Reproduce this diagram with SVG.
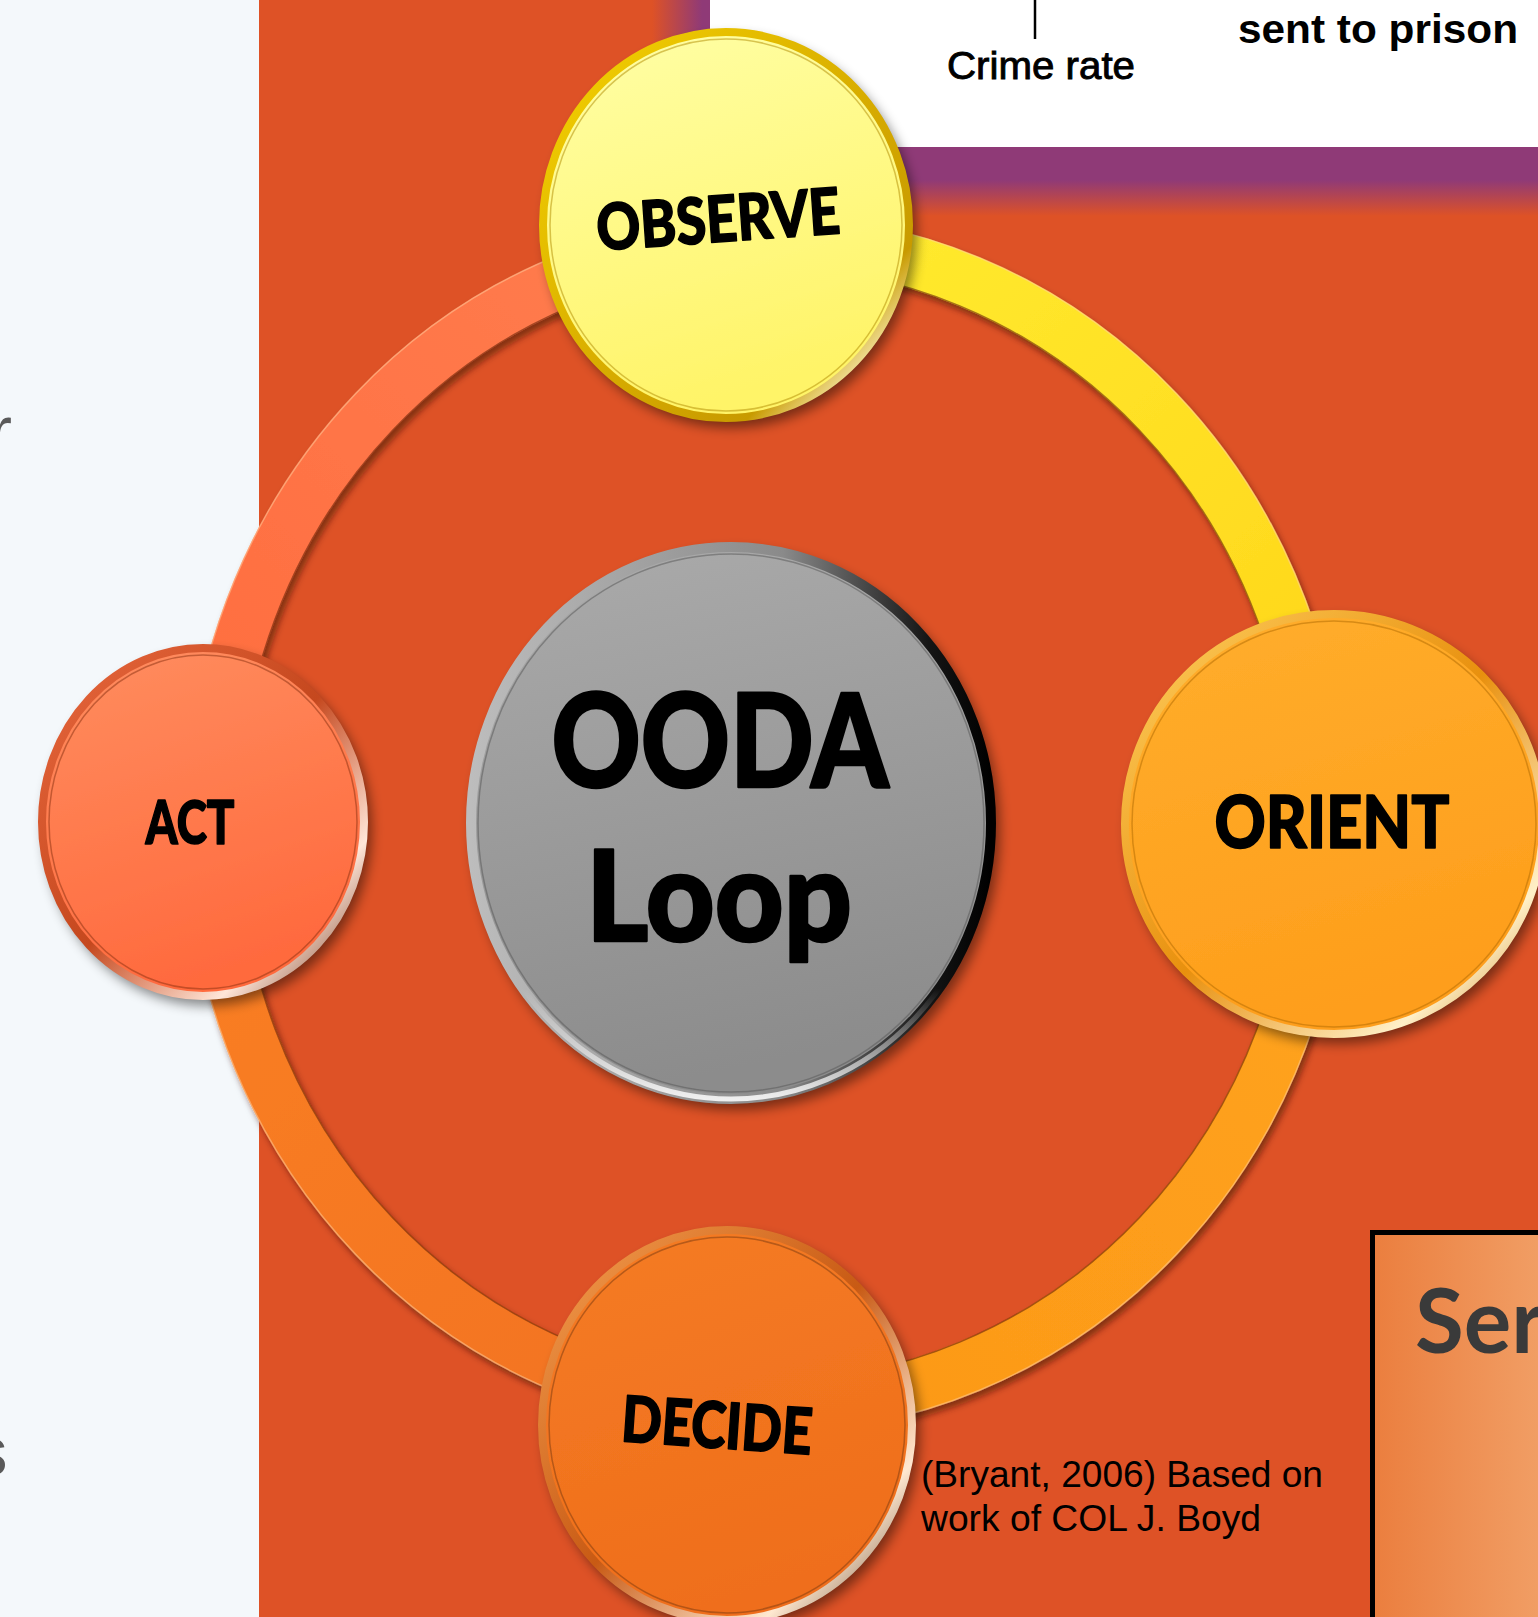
<svg xmlns="http://www.w3.org/2000/svg" width="1538" height="1617" viewBox="0 0 1538 1617">
<defs>
<style>
.lbl{font-family:Lato,"Liberation Sans",sans-serif;font-weight:900;fill:#000;stroke:#000;stroke-width:1.6px;stroke-linejoin:round;text-anchor:middle}
.big{stroke-width:2.6px}
.arc{fill:none;stroke-width:53}
.cite{font-family:"Liberation Sans",Arial,sans-serif;font-size:37px;fill:#000}
</style>
<filter id="sh" x="-20%" y="-20%" width="145%" height="145%"><feDropShadow dx="5" dy="7" stdDeviation="6" flood-color="#000" flood-opacity="0.45"/></filter>
<filter id="rsh" x="-10%" y="-10%" width="125%" height="125%"><feDropShadow dx="3" dy="5" stdDeviation="3" flood-color="#3a0e00" flood-opacity="0.55"/></filter>
<linearGradient id="pFadeV" x1="0" y1="0" x2="0" y2="1"><stop offset="0" stop-color="#8F3A77"/><stop offset="1" stop-color="#DE5226"/></linearGradient>
<linearGradient id="pFadeH" x1="0" y1="0" x2="1" y2="0"><stop offset="0" stop-color="#DE5226"/><stop offset="1" stop-color="#8F3A77"/></linearGradient>
<linearGradient id="aTL" gradientUnits="userSpaceOnUse" x1="212" y1="824" x2="766" y2="241"><stop offset="0" stop-color="#FF6C3E"/><stop offset="1" stop-color="#FF7E50"/></linearGradient>
<linearGradient id="aTR" gradientUnits="userSpaceOnUse" x1="766" y1="241" x2="1320" y2="824"><stop offset="0" stop-color="#FFEC30"/><stop offset="1" stop-color="#FFD418"/></linearGradient>
<linearGradient id="aBR" gradientUnits="userSpaceOnUse" x1="1320" y1="824" x2="766" y2="1407"><stop offset="0" stop-color="#FFA41C"/><stop offset="1" stop-color="#FC9818"/></linearGradient>
<linearGradient id="aBL" gradientUnits="userSpaceOnUse" x1="766" y1="1407" x2="212" y2="824"><stop offset="0" stop-color="#F27220"/><stop offset="1" stop-color="#FA7F24"/></linearGradient>
<linearGradient id="gObs" x1="0" y1="0" x2="0.3" y2="1"><stop offset="0" stop-color="#FFFFA8"/><stop offset="1" stop-color="#FFF468"/></linearGradient>
<linearGradient id="rObs" x1="0" y1="0" x2="1" y2="1"><stop offset="0" stop-color="#F5D200"/><stop offset="0.5" stop-color="#D9AE00"/><stop offset="0.78" stop-color="#C89A00"/><stop offset="0.9" stop-color="#FFF8D0"/><stop offset="1" stop-color="#B08600"/></linearGradient>
<linearGradient id="gOri" x1="0" y1="0" x2="0.3" y2="1"><stop offset="0" stop-color="#FFAE2C"/><stop offset="1" stop-color="#FE9E1C"/></linearGradient>
<linearGradient id="rOri" x1="0" y1="0" x2="1" y2="1"><stop offset="0" stop-color="#FFD060"/><stop offset="0.5" stop-color="#E8900E"/><stop offset="0.82" stop-color="#FFF0C8"/><stop offset="1" stop-color="#C07000"/></linearGradient>
<linearGradient id="gAct" x1="0" y1="0" x2="0.3" y2="1"><stop offset="0" stop-color="#FF8E60"/><stop offset="1" stop-color="#FF6A3E"/></linearGradient>
<linearGradient id="rAct" x1="0" y1="0" x2="1" y2="1"><stop offset="0" stop-color="#E8683E"/><stop offset="0.5" stop-color="#C5481E"/><stop offset="0.78" stop-color="#FFE6D8"/><stop offset="1" stop-color="#6A2A10"/></linearGradient>
<linearGradient id="gDec" x1="0" y1="0" x2="0.3" y2="1"><stop offset="0" stop-color="#F57C24"/><stop offset="1" stop-color="#EF6E1C"/></linearGradient>
<linearGradient id="rDec" x1="0" y1="0" x2="1" y2="1"><stop offset="0" stop-color="#F6A050"/><stop offset="0.5" stop-color="#C85A14"/><stop offset="0.8" stop-color="#FFE8D0"/><stop offset="1" stop-color="#5A3A20"/></linearGradient>
<linearGradient id="gOoda" x1="0" y1="0" x2="0.2" y2="1"><stop offset="0" stop-color="#ABABAB"/><stop offset="1" stop-color="#8C8C8C"/></linearGradient>
<linearGradient id="rOoda" x1="0" y1="0" x2="1" y2="0"><stop offset="0" stop-color="#BDBDBD"/><stop offset="0.6" stop-color="#8A8A8A"/><stop offset="0.88" stop-color="#151515"/><stop offset="1" stop-color="#000"/></linearGradient>
<linearGradient id="rOodaB" x1="0" y1="0" x2="0" y2="1"><stop offset="0" stop-color="#fff" stop-opacity="0"/><stop offset="0.8" stop-color="#fff" stop-opacity="0"/><stop offset="1" stop-color="#fff" stop-opacity="0.85"/></linearGradient>
<linearGradient id="boxFill" x1="0" y1="0" x2="1" y2="0"><stop offset="0" stop-color="#EB7E3E"/><stop offset="1" stop-color="#F2A46C"/></linearGradient>
</defs>

<g id="background">
<rect x="0" y="0" width="1538" height="1617" fill="#F4F8FB"/>
<rect x="259" y="0" width="1279" height="1617" fill="#DE5226"/>
<text x="-11" y="454" font-family="'Liberation Sans',Arial,sans-serif" font-size="69" fill="#5A5A5A">r</text>
<text x="-27" y="1475" font-family="'Liberation Sans',Arial,sans-serif" font-size="69" fill="#5A5A5A">s</text>
</g>

<g id="chart-box">
<rect x="700" y="0" width="838" height="182" fill="#8F3A77"/>
<rect x="700" y="180" width="838" height="36" fill="url(#pFadeV)"/>
<rect x="652" y="0" width="50" height="216" fill="url(#pFadeH)"/>
<rect x="710" y="0" width="828" height="147" fill="#FFFFFF"/>
<line x1="1035" y1="0" x2="1035" y2="39" stroke="#000" stroke-width="2.5"/>
<text x="947" y="79" font-family="'Liberation Sans',Arial,sans-serif" font-size="39" textLength="188" lengthAdjust="spacingAndGlyphs" fill="#000" stroke="#000" stroke-width="0.9">Crime rate</text>
<text x="1238" y="43" font-family="'Liberation Sans',Arial,sans-serif" font-weight="bold" font-size="40" textLength="280" lengthAdjust="spacingAndGlyphs" fill="#000">sent to prison</text>
</g>

<g id="connectors" filter="url(#rsh)">
<path class="arc" stroke="url(#aTL)" d="M212 824 A554 583 0 0 1 766 241"/>
<path class="arc" stroke="url(#aTR)" d="M766 241 A554 583 0 0 1 1320 824"/>
<path class="arc" stroke="url(#aBR)" d="M1320 824 A554 583 0 0 1 766 1407"/>
<path class="arc" stroke="url(#aBL)" d="M766 1407 A554 583 0 0 1 212 824"/>
<ellipse cx="766" cy="824" rx="528" ry="557" fill="none" stroke="#6a2408" stroke-opacity="0.6" stroke-width="1.5"/>
<ellipse cx="766" cy="824" rx="580" ry="609" fill="none" stroke="#FFD0A0" stroke-opacity="0.5" stroke-width="1.5"/>
</g>

<g id="ooda">
<ellipse cx="731" cy="823" rx="264" ry="280" fill="url(#gOoda)" filter="url(#sh)"/>
<ellipse cx="731" cy="823" rx="260" ry="276" fill="none" stroke="url(#rOoda)" stroke-width="10"/>
<ellipse cx="731" cy="823" rx="260" ry="276" fill="none" stroke="url(#rOodaB)" stroke-width="5"/>
<ellipse cx="731" cy="823" rx="253" ry="269" fill="none" stroke="#555" stroke-opacity="0.5" stroke-width="1.5"/>
<text class="lbl big" x="720" y="787" font-size="130" textLength="337" lengthAdjust="spacingAndGlyphs">OODA</text>
<text class="lbl big" x="719" y="941" font-size="126" textLength="266" lengthAdjust="spacingAndGlyphs">Loop</text>
</g>

<g id="observe">
<ellipse cx="726" cy="225" rx="186" ry="196" fill="url(#gObs)" filter="url(#sh)"/>
<ellipse cx="726" cy="225" rx="183" ry="193" fill="none" stroke="url(#rObs)" stroke-width="8"/>
<ellipse cx="726" cy="225" rx="176" ry="186" fill="none" stroke="#B08A00" stroke-opacity="0.5" stroke-width="1.5"/>
<text class="lbl" x="718" y="242" font-size="64" textLength="244" lengthAdjust="spacingAndGlyphs" transform="rotate(-4 718 219)">OBSERVE</text>
</g>

<g id="orient">
<ellipse cx="1334" cy="824" rx="212" ry="213" fill="url(#gOri)" filter="url(#sh)"/>
<ellipse cx="1334" cy="824" rx="209" ry="210" fill="none" stroke="url(#rOri)" stroke-width="8"/>
<ellipse cx="1334" cy="824" rx="202" ry="203" fill="none" stroke="#B06A00" stroke-opacity="0.5" stroke-width="1.5"/>
<text class="lbl" x="1332" y="848" font-size="72" textLength="235" lengthAdjust="spacingAndGlyphs">ORIENT</text>
</g>

<g id="act">
<ellipse cx="203" cy="822" rx="164" ry="177" fill="url(#gAct)" filter="url(#sh)"/>
<ellipse cx="203" cy="822" rx="161" ry="174" fill="none" stroke="url(#rAct)" stroke-width="8"/>
<ellipse cx="203" cy="822" rx="154" ry="167" fill="none" stroke="#8A3010" stroke-opacity="0.5" stroke-width="1.5"/>
<text class="lbl" x="190" y="844" font-size="61" textLength="89" lengthAdjust="spacingAndGlyphs">ACT</text>
</g>

<g id="decide">
<ellipse cx="727" cy="1425" rx="188" ry="198" fill="url(#gDec)" filter="url(#sh)"/>
<ellipse cx="727" cy="1425" rx="185" ry="195" fill="none" stroke="url(#rDec)" stroke-width="8"/>
<ellipse cx="727" cy="1425" rx="178" ry="188" fill="none" stroke="#7A3A10" stroke-opacity="0.5" stroke-width="1.5"/>
<text class="lbl" x="717" y="1448" font-size="64" textLength="191" lengthAdjust="spacingAndGlyphs" transform="rotate(4 717 1425)">DECIDE</text>
</g>

<g id="citation">
<text class="cite" x="921" y="1487" textLength="402" lengthAdjust="spacingAndGlyphs">(Bryant, 2006) Based on</text>
<text class="cite" x="921" y="1531" textLength="340" lengthAdjust="spacingAndGlyphs">work of COL J. Boyd</text>
</g>

<g id="side-box">
<rect x="1372.5" y="1232.5" width="200" height="420" fill="url(#boxFill)" stroke="#000" stroke-width="5"/>
<text x="1415" y="1353" font-family="Lato,'Liberation Sans',sans-serif" font-weight="bold" font-size="89" fill="#3A3A3A">Ser</text>
</g>
</svg>
